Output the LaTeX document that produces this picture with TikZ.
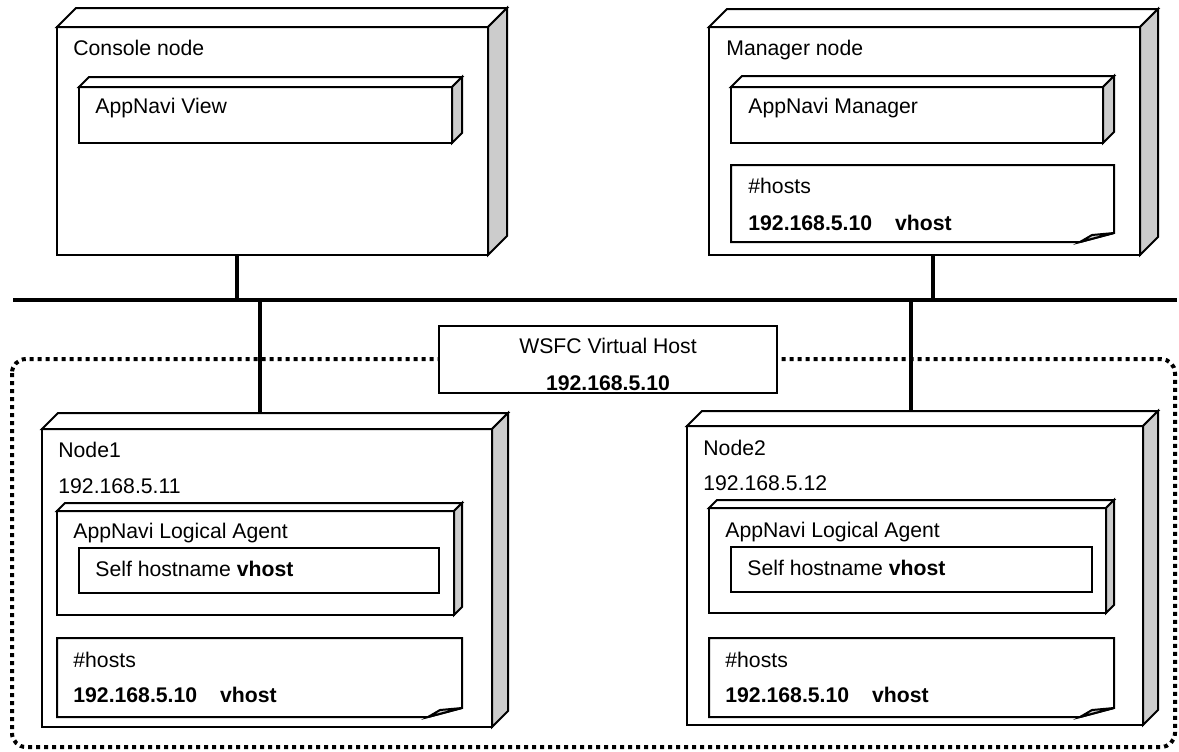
\documentclass[tikz,border=0pt]{standalone}
\usepackage{fontspec}
\setmainfont{Liberation Sans}
\usepackage{tikz}
\usetikzlibrary{calc,fit}

\definecolor{sidegray}{RGB}{204,204,204}
\newcommand{\diagfont}{\fontsize{10.6}{12.7}\selectfont}

\tikzset{
  boxline/.style={draw=black, line width=1pt, line join=miter},
  frontface/.style={boxline, fill=white, inner sep=0pt, outer sep=0pt},
  lbl/.style={anchor=base west, inner sep=0pt, font=\diagfont},
  clbl/.style={anchor=base, inner sep=0pt, font=\diagfont},
  bus/.style={line width=1.6pt},
  cluster/.style={line width=2pt, dash pattern=on 2pt off 2pt, rounded corners=7pt},
}

% 3d box: name, x1, y1, x2, y2, depth
\newcommand{\devbox}[6]{%
  \path (#2,#3) coordinate (#1-tl) (#4,#5) coordinate (#1-br);
  \node[frontface, fit=(#1-tl)(#1-br)] (#1) {};
  \coordinate (#1-back) at ($(#1.north west)+(#6,-#6)$);
  \draw[boxline, fill=white] (#1.north west) -- (#1-back)
    -- ($(#1.north east)+(#6,-#6)$) -- (#1.north east) -- cycle;
  \draw[boxline, fill=sidegray] (#1.north east) -- ($(#1.north east)+(#6,-#6)$)
    -- ($(#1.south east)+(#6,-#6)$) -- (#1.south east) -- cycle;
}

% note with folded corner: name, x1, y1, x2, y2
\newcommand{\notebox}[5]{%
  \path (#2,#3) coordinate (#1-tl) (#4,#5) coordinate (#1-br);
  \node[inner sep=0pt, outer sep=0pt, fit=(#1-tl)(#1-br)] (#1) {};
  \draw[boxline, fill=white] (#1.north west) -- (#1.north east)
    -- ($(#1.south east)+(0,-9)$) -- ($(#1.south east)+(-34,0)$)
    -- (#1.south west) -- cycle;
  \draw[boxline, fill=sidegray] ($(#1.south east)+(-34,0)$)
    -- ($(#1.south east)+(-22,-7)$) -- ($(#1.south east)+(0,-9)$) -- cycle;
}

\begin{document}
\begin{tikzpicture}[x=0.5pt, y=-0.5pt]
    \useasboundingbox (0,0) rectangle (1179,751);

    % cluster
    \draw[cluster] (12,359) rectangle (1175,747);

    % network
    \coordinate (busL) at (13,300);
    \coordinate (busR) at (1177,300);
    \coordinate (tapC) at (237,300);
    \coordinate (tapM) at (933,300);
    \coordinate (tap1) at (260,300);
    \coordinate (tap2) at (911,300);
    \draw[bus] (busL) -- (busR);

    % console node
    \devbox{console}{57}{27}{488}{255}{19}
    \node[lbl] (consolelbl) at (73,55) {Console node};
    \devbox{view}{79}{87}{452}{143}{10}
    \node[lbl] (viewlbl) at (95,113) {AppNavi View};

    % manager node
    \devbox{manager}{709}{27}{1140}{255}{18}
    \node[lbl] (managerlbl) at (726,55) {Manager node};
    \devbox{mgr}{731}{87}{1103}{143}{11}
    \node[lbl] (mgrlbl) at (748,113) {AppNavi Manager};
    \notebox{mhosts}{731}{165}{1114}{242}
    \node[lbl] (mhostslbl) at (748,193) {\#hosts};
    \node[lbl] (mhostsip) at (748,230) {\bfseries 192.168.5.10\hspace{11.5pt}vhost};

    \draw[bus] (tapC |- console.south) -- (tapC);
    \draw[bus] (tapM |- manager.south) -- (tapM);

    % virtual host
    \node[frontface, minimum width=169pt, minimum height=33.5pt, anchor=north west] (wsfc) at (439,326) {};
    \node[clbl] (wsfclbl) at (608,353) {WSFC Virtual Host};
    \node[clbl] (wsfcip) at (608,390) {\bfseries 192.168.5.10};

    % node1
    \devbox{n1}{42}{429}{492}{727}{16}
    \draw[bus] (tap1) -- (tap1 |- n1-back);
    \node[lbl] (n1lbl) at (58,457) {Node1};
    \node[lbl] (n1ip) at (58,493) {192.168.5.11};
    \devbox{agent1}{57}{511}{454}{615}{8}
    \node[lbl] (agent1lbl) at (73,538) {AppNavi Logical Agent};
    \node[frontface, fit={(79,548) (439,593)}] (self1) {};
    \node[lbl] (self1lbl) at (95,576) {Self hostname \textbf{vhost}};
    \notebox{hosts1}{57}{638}{462}{717}
    \node[lbl] (hosts1lbl) at (73,667) {\#hosts};
    \node[lbl] (hosts1ip) at (73,702) {\bfseries 192.168.5.10\hspace{11.5pt}vhost};

    % node2
    \devbox{n2}{687}{426}{1143}{725}{15}
    \draw[bus] (tap2) -- (tap2 |- n2-back);
    \node[lbl] (n2lbl) at (703,455) {Node2};
    \node[lbl] (n2ip) at (703,490) {192.168.5.12};
    \devbox{agent2}{709}{508}{1106}{613}{8}
    \node[lbl] (agent2lbl) at (725,537) {AppNavi Logical Agent};
    \node[frontface, fit={(731,547) (1092,592)}] (self2) {};
    \node[lbl] (self2lbl) at (747,575) {Self hostname \textbf{vhost}};
    \notebox{hosts2}{709}{638}{1114}{717}
    \node[lbl] (hosts2lbl) at (725,667) {\#hosts};
    \node[lbl] (hosts2ip) at (725,702) {\bfseries 192.168.5.10\hspace{11.5pt}vhost};
\end{tikzpicture}
\end{document}
